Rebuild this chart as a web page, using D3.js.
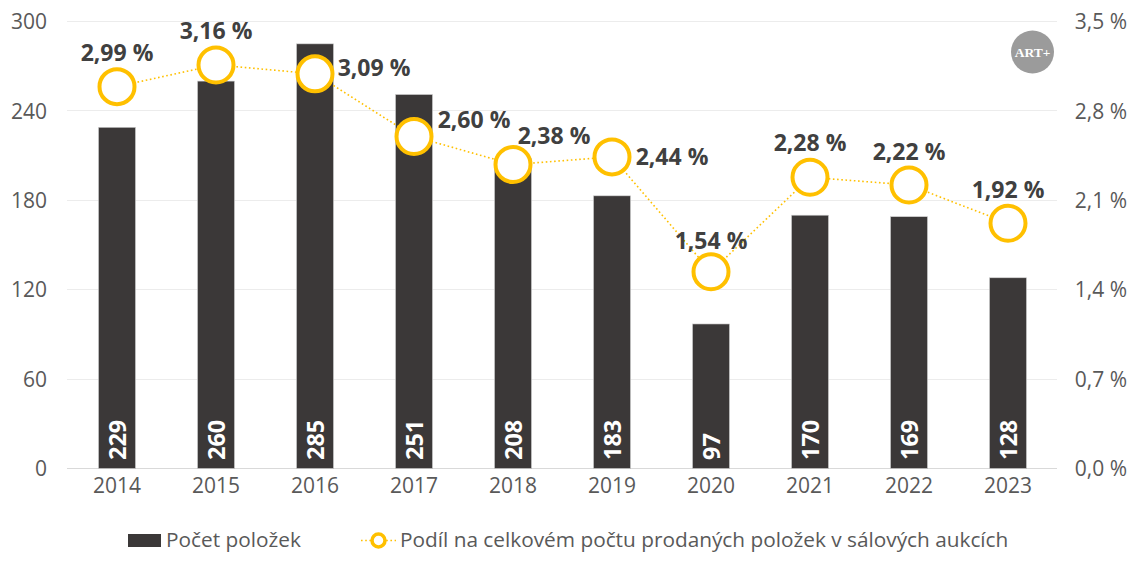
<!DOCTYPE html>
<html>
<head>
<meta charset="utf-8">
<script src="https://cdn.jsdelivr.net/npm/d3@7"></script>
<style>
html, body { margin: 0; padding: 0; background: #fff; }
svg { display: block; }
text { font-family: "Open Sans", sans-serif; }
</style>
</head>
<body>
<svg id="chart" width="1135" height="567"></svg>
<script>
var years = [2014, 2015, 2016, 2017, 2018, 2019, 2020, 2021, 2022, 2023];
var counts = [229, 260, 285, 251, 208, 183, 97, 170, 169, 128];
var shares = [2.99, 3.16, 3.09, 2.60, 2.38, 2.44, 1.54, 2.28, 2.22, 1.92];
var leftTicks = [0, 60, 120, 180, 240, 300];
var rightTicks = [0, 0.7, 1.4, 2.1, 2.8, 3.5];
var seriesNames = ["Počet položek", "Podíl na celkovém počtu prodaných položek v sálových aukcích"];
// label offset from the marker, the labels sit wherever they fit in the original
var labelDx = [0, 0, 59, 60, 41, 60, 0, 0, 0, 0];
var labelDy = [-34, -33.5, -6, -16, -29, 0, -31, -34, -33, -33];

var GOLD = "#ffc000", DARK = "#3b3838", GREY = "#595959";
var svg = d3.select("#chart");

function comma(v, digits) {
    return v.toFixed(digits).replace(".", ",") + " %";
}

var x = d3.scaleBand().domain(years).range([67.5, 1057.5]);
var yLeft = d3.scaleLinear().domain([0, 300]).range([468.5, 21.5]);
var yRight = d3.scaleLinear().domain([0, 3.5]).range([468.5, 21.5]);

// gridlines
svg.append("g").selectAll("line").data(leftTicks).enter().append("line")
    .attr("x1", 67).attr("x2", 1057)
    .attr("y1", function (d) { return Math.floor(yLeft(d)) + 0.5; })
    .attr("y2", function (d) { return Math.floor(yLeft(d)) + 0.5; })
    .attr("stroke", function (d) { return d == 0 ? "#d9d9d9" : "#ececec"; })
    .attr("stroke-width", 1);

// axes, lines hidden
var axisLeft = svg.append("g").attr("transform", "translate(47,0.5)")
    .call(d3.axisLeft(yLeft).tickValues(leftTicks).tickSize(0).tickPadding(0));
var axisRight = svg.append("g").attr("transform", "translate(1127,0.5)")
    .call(d3.axisLeft(yRight).tickValues(rightTicks).tickSize(0).tickPadding(0)
        .tickFormat(function (d) { return comma(d, 1); }));
var axisBottom = svg.append("g").attr("transform", "translate(0,468)")
    .call(d3.axisBottom(x).tickSize(0).tickPadding(10));
[axisLeft, axisRight, axisBottom].forEach(function (a) {
    a.select(".domain").remove();
    a.selectAll("text").style("font-family", '"Open Sans", sans-serif')
        .style("font-size", "21px").attr("fill", GREY);
});

// bars
var barWidth = 37;
svg.append("g").selectAll("rect").data(counts).enter().append("rect")
    .attr("x", function (d, i) { return x(years[i]) + x.bandwidth() / 2 - barWidth / 2; })
    .attr("y", function (d) { return yLeft(d); })
    .attr("width", barWidth)
    .attr("height", function (d) { return yLeft(0) - yLeft(d); })
    .attr("fill", DARK)
    .attr("stroke", "#d0d0d0")
    .attr("stroke-width", 0.6);

// values inside the bars
svg.append("g").selectAll("text").data(counts).enter().append("text")
    .attr("transform", function (d, i) {
        return "translate(" + (x(years[i]) + x.bandwidth() / 2 + 8.5) + ",460) rotate(-90)";
    })
    .attr("font-size", 23.5).attr("font-weight", 700).attr("fill", "#fff")
    .text(function (d) { return d; });

// dotted line and markers
var line = d3.line()
    .x(function (d, i) { return x(years[i]) + x.bandwidth() / 2; })
    .y(function (d) { return yRight(d); });
svg.append("path").datum(shares).attr("d", line)
    .attr("fill", "none").attr("stroke", GOLD)
    .attr("stroke-width", 1.6).attr("stroke-dasharray", "1.6 2.6");
svg.append("g").selectAll("circle").data(shares).enter().append("circle")
    .attr("cx", function (d, i) { return x(years[i]) + x.bandwidth() / 2; })
    .attr("cy", function (d) { return yRight(d); })
    .attr("r", 17.5)
    .attr("fill", "#fff").attr("stroke", GOLD).attr("stroke-width", 4);

// share labels
svg.append("g").selectAll("text").data(shares).enter().append("text")
    .attr("x", function (d, i) { return x(years[i]) + x.bandwidth() / 2 + labelDx[i]; })
    .attr("y", function (d, i) { return yRight(d) + labelDy[i] + 8; })
    .attr("text-anchor", "middle")
    .attr("font-size", 23).attr("font-weight", 700).attr("fill", "#404040")
    .text(function (d) { return comma(d, 2); });

// logo
var logo = svg.append("g").attr("transform", "translate(1032.5,52)");
logo.append("circle").attr("r", 21.5).attr("fill", "#9b9b9b");
logo.append("text").attr("text-anchor", "middle").attr("y", 4.5)
    .style("font-family", '"Liberation Serif", serif')
    .attr("font-size", 13.5).attr("font-weight", 700).attr("fill", "#fff").text("ART+");

// legend
var legend = svg.append("g");
legend.append("rect").attr("x", 128).attr("y", 534).attr("width", 33).attr("height", 13).attr("fill", DARK);
legend.append("text").attr("x", 166).attr("y", 547).attr("font-size", 20.8).attr("fill", GREY).text(seriesNames[0]);
legend.append("line").attr("x1", 361).attr("x2", 396).attr("y1", 540.5).attr("y2", 540.5)
    .attr("stroke", GOLD).attr("stroke-width", 1.6).attr("stroke-dasharray", "1.6 2.6");
legend.append("circle").attr("cx", 378.5).attr("cy", 540.5).attr("r", 6.5)
    .attr("fill", "#fff").attr("stroke", GOLD).attr("stroke-width", 3.5);
legend.append("text").attr("x", 400).attr("y", 547).attr("font-size", 20.8).attr("fill", GREY).text(seriesNames[1]);
</script>
</body>
</html>
